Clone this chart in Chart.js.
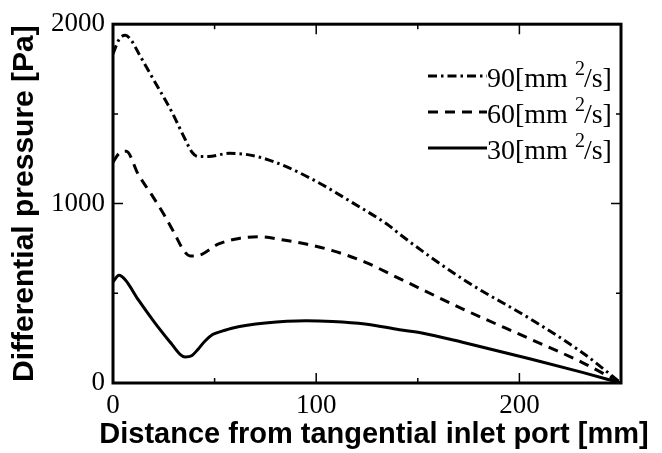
<!DOCTYPE html>
<html>
<head>
<meta charset="utf-8">
<script src="https://cdn.jsdelivr.net/npm/chart.js@4.4.0/dist/chart.umd.min.js"></script>
<style>
  html, body { margin: 0; padding: 0; background: #fff; }
  #wrap { width: 662px; height: 453px; }
</style>
</head>
<body>
<div id="wrap"><canvas id="dpChart" width="662" height="453"></canvas></div>
<script>
// values: distance [mm] / differential pressure [Pa]
const dist90 = [0, 3, 6, 9, 13, 20, 29, 35, 39, 42, 47, 57, 65, 73, 85, 100, 118, 136, 141, 173, 206, 231, 250];
const dp90   = [1835, 1915, 1938, 1910, 1830, 1690, 1510, 1370, 1285, 1262, 1262, 1280, 1275, 1256, 1207, 1124, 1004, 876, 830, 573, 353, 169, 0];

const dist60 = [0, 3, 6.5, 12.5, 19, 25, 30, 35, 38, 42, 52, 62, 72, 84, 95, 108, 124, 141, 173, 206, 231, 250];
const dp60   = [1230, 1280, 1292, 1161, 1050, 940, 839, 735, 708, 711, 775, 806, 815, 797, 775, 738, 674, 582, 408, 242, 114, 0];

const dist30 = [0, 3, 6, 12.5, 20.7, 29, 33, 35.5, 38.7, 42, 45.2, 49, 53.4, 59, 75, 95, 108, 124, 141, 152, 173, 206, 231, 250];
const dp30   = [565, 600, 575, 463, 334, 215, 160, 145, 152, 190, 233, 270, 288, 307, 334, 347, 343, 329, 297, 279, 224, 132, 59, 0];

const seriesNames = ['90', '60', '30'];
const xMajorTicks = [0, 100, 200];
const yMajorTicks = [0, 1000, 2000];
const xTitle = 'Distance from tangential inlet port [mm]';

const dashDot = [9, 4, 2.5, 4];
const dashed = [10, 7];

function pts(xs, ys) {
    return xs.map(function(x, i) { return {x: x, y: ys[i]}; });
}

// frame with inward ticks on all four sides, the in-plot legend and the x title
// (the x title is wider than the plot, so chart.js would squeeze it)
const framePlugin = {
    id: 'frame',
    afterDatasetsDraw(chart) {
        const ctx = chart.ctx;
        const a = chart.chartArea;
        const xs = chart.scales.x, ys = chart.scales.y;
        ctx.save();
        ctx.strokeStyle = '#000';
        ctx.lineWidth = 3;
        ctx.setLineDash([]);
        ctx.strokeRect(a.left, a.top, a.right - a.left, a.bottom - a.top);

        ctx.lineWidth = 1.5;
        xs.ticks.forEach(function(t) {
            const px = xs.getPixelForValue(t.value);
            const len = xMajorTicks.includes(t.value) ? 10 : 5;
            ctx.beginPath();
            ctx.moveTo(px, a.bottom); ctx.lineTo(px, a.bottom - len);
            ctx.moveTo(px, a.top); ctx.lineTo(px, a.top + len);
            ctx.stroke();
        });
        ys.ticks.forEach(function(t) {
            const py = ys.getPixelForValue(t.value);
            const len = yMajorTicks.includes(t.value) ? 10 : 5;
            ctx.beginPath();
            ctx.moveTo(a.left, py); ctx.lineTo(a.left + len, py);
            ctx.moveTo(a.right, py); ctx.lineTo(a.right - len, py);
            ctx.stroke();
        });

        // legend
        chart.data.datasets.forEach(function(ds, i) {
            const base = 87 + i * 36;
            ctx.lineWidth = 3;
            ctx.setLineDash(ds.borderDash || []);
            ctx.beginPath();
            ctx.moveTo(428, base - 11);
            ctx.lineTo(487, base - 11);
            ctx.stroke();
            ctx.setLineDash([]);
            ctx.fillStyle = '#000';
            ctx.textBaseline = 'alphabetic';
            ctx.textAlign = 'left';
            ctx.font = '28px "Liberation Serif"';
            const head = seriesNames[i] + '[mm';
            let x = 487;
            ctx.fillText(head, x, base);
            x += ctx.measureText(head).width + 7;
            ctx.font = '20px "Liberation Serif"';
            ctx.fillText('2', x, base - 12);
            x += ctx.measureText('2').width - 1;
            ctx.font = '28px "Liberation Serif"';
            ctx.fillText('/s]', x, base);
        });

        // x axis title
        ctx.fillStyle = '#000';
        ctx.font = 'bold 29px "Liberation Sans"';
        ctx.textAlign = 'center';
        ctx.textBaseline = 'middle';
        ctx.fillText(xTitle, 374, 435);
        ctx.restore();
    }
};

const ctx = document.getElementById('dpChart').getContext('2d');

new Chart(ctx, {
    type: 'line',
    data: {
        datasets: [{
            label: '90[mm2/s]',
            data: pts(dist90, dp90),
            borderColor: '#000',
            borderWidth: 3,
            borderDash: dashDot,
            cubicInterpolationMode: 'monotone',
            pointRadius: 0,
            fill: false
        }, {
            label: '60[mm2/s]',
            data: pts(dist60, dp60),
            borderColor: '#000',
            borderWidth: 3,
            borderDash: dashed,
            cubicInterpolationMode: 'monotone',
            pointRadius: 0,
            fill: false
        }, {
            label: '30[mm2/s]',
            data: pts(dist30, dp30),
            borderColor: '#000',
            borderWidth: 3,
            cubicInterpolationMode: 'monotone',
            pointRadius: 0,
            fill: false
        }]
    },
    options: {
        responsive: false,
        animation: false,
        devicePixelRatio: 1,
        layout: {
            padding: { top: 21, right: 41, left: 0, bottom: 0 }
        },
        plugins: {
            legend: { display: false },
            tooltip: { enabled: false }
        },
        scales: {
            x: {
                type: 'linear',
                min: 0,
                max: 250,
                border: { display: false },
                grid: { display: false, drawTicks: false },
                ticks: {
                    stepSize: 50,
                    autoSkip: false,
                    maxRotation: 0,
                    padding: 7,
                    color: '#000',
                    font: { family: '"Liberation Serif"', size: 27 },
                    callback: function(v) { return xMajorTicks.includes(v) ? String(v) : ''; }
                },
                afterFit: function(scale) { scale.height = 70; }
            },
            y: {
                min: 0,
                max: 2000,
                border: { display: false },
                grid: { display: false, drawTicks: false },
                ticks: {
                    stepSize: 500,
                    autoSkip: false,
                    padding: 8,
                    color: '#000',
                    font: { family: '"Liberation Serif"', size: 27 },
                    callback: function(v) { return yMajorTicks.includes(v) ? String(v) : ''; }
                },
                title: {
                    display: true,
                    text: 'Differential pressure [Pa]',
                    color: '#000',
                    font: { family: '"Liberation Sans"', size: 30, weight: 'bold' },
                    padding: { top: 7, bottom: 0 }
                },
                afterFit: function(scale) { scale.width = 113; }
            }
        }
    },
    plugins: [framePlugin]
});
</script>
</body>
</html>
